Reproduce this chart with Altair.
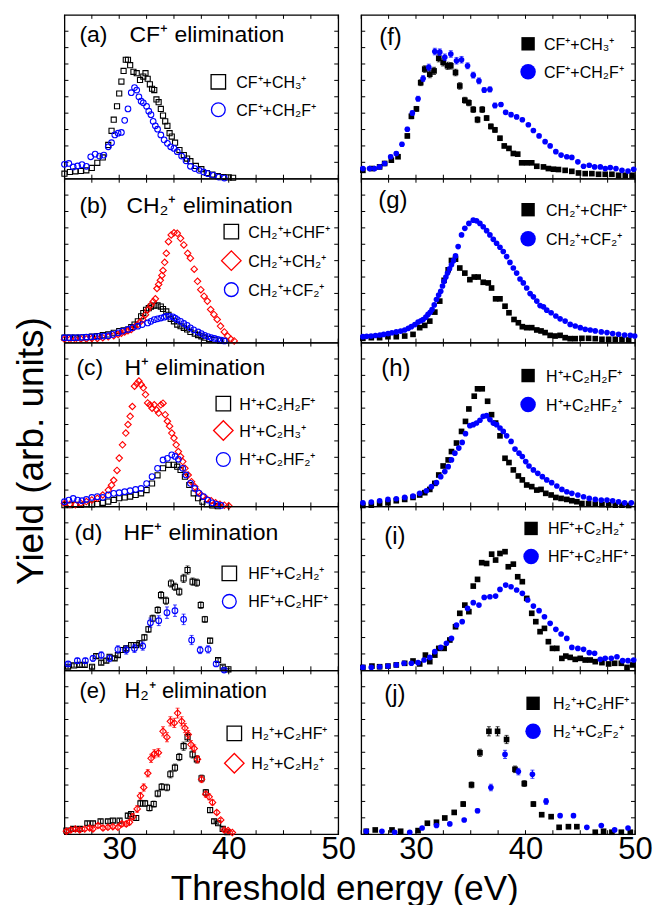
import altair as alt
import pandas as pd

FONT = "Liberation Sans"
BLACK = "#000000"
RED = "#ff0000"
BLUE = "#0000ff"

W, H = 274, 164
TICK = 4

X_TICKS = [25, 27.5, 30, 32.5, 35, 37.5, 40, 42.5, 45, 47.5, 50]
Y_TICKS = [1, 2, 3, 4, 5, 6, 7, 8, 9]
X_LABELS = [30, 40, 50]

# ---------------- data (threshold energy eV, yield arb. units) ----------------
# (a) CF+ elimination
a1_E = [25.0,25.5,26.0,26.5,27.0,27.5,28.0,28.5,29.0,29.3,29.5,29.8,30.0,30.2,30.4,30.6,30.8,31.0,31.3,31.6,
        31.9,32.2,32.4,32.6,32.8,33.0,33.2,33.4,33.6,33.8,34.0,34.2,34.4,34.6,34.8,35.1,35.5,35.9,36.2,36.5,
        37.0,37.5,38.0,38.5,39.0,39.5,40.0,40.4]
a1_Y = [0.31,0.41,0.45,0.47,0.51,0.66,0.97,1.3,2.06,2.92,3.6,4.42,5.2,5.93,6.58,7.26,7.26,6.93,6.52,6.44,
        6.03,6.23,6.44,6.1,5.76,5.49,5.41,4.84,4.67,4.26,3.85,3.5,3.23,2.78,2.57,2.2,1.75,1.44,1.23,1.07,
        0.78,0.58,0.35,0.25,0.16,0.1,0.08,0.06]
a2_E = [25.0,25.4,25.8,26.2,26.6,27.0,27.4,27.8,28.2,28.6,29.0,29.3,29.6,29.9,30.2,30.5,30.8,31.1,31.4,31.6,
        31.8,32.0,32.2,32.5,32.7,32.9,33.1,33.3,33.5,33.8,34.1,34.4,34.7,35.0,35.3,35.7,36.1,36.5,36.9,37.3,
        37.7,38.1,38.6,39.1,39.6]
a2_Y = [0.88,0.93,0.72,0.78,0.86,0.76,1.34,1.5,1.38,1.44,1.95,2.2,2.67,2.78,2.82,3.56,4.26,5.25,5.56,5.41,
        5.0,4.73,4.63,4.42,4.12,3.91,3.5,3.23,3.02,2.67,2.37,2.16,1.95,1.85,1.65,1.38,1.09,0.76,0.62,0.51,
        0.41,0.31,0.21,0.1,0.04]

# (b) CH2+ elimination
b1_E = [25.0,25.5,26.0,26.5,27.0,27.5,28.0,28.5,29.0,29.5,30.0,30.4,30.8,31.1,31.4,31.7,32.0,32.2,32.45,32.7,
        32.9,33.2,33.5,33.8,34.0,34.3,34.5,34.7,35.0,35.3,35.6,35.9,36.2,36.5,36.9,37.2,37.5,37.8,38.2,38.7,
        39.2,39.6]
b1_Y = [0.3,0.3,0.3,0.31,0.33,0.36,0.4,0.45,0.5,0.6,0.7,0.75,0.8,0.95,1.1,1.3,1.6,1.8,2.0,2.1,
        2.2,2.25,2.27,2.2,2.05,1.9,1.7,1.45,1.3,1.1,1.0,0.9,0.8,0.65,0.55,0.46,0.38,0.3,0.22,0.16,
        0.12,0.1]
b2_E = [25.0,25.5,26.0,26.5,27.0,27.5,28.0,28.5,29.0,29.5,29.9,30.2,30.5,30.8,31.1,31.4,31.7,31.9,32.15,32.4,
        32.6,32.9,33.1,33.3,33.45,33.6,33.75,33.9,34.0,34.15,34.3,34.5,34.75,35.0,35.3,35.6,35.9,36.25,36.5,36.85,
        37.15,37.45,37.75,38.05,38.35,38.65,38.95,39.25,39.6,39.9,40.2,40.5]
b2_Y = [0.2,0.2,0.2,0.22,0.22,0.25,0.25,0.3,0.35,0.42,0.5,0.57,0.65,0.72,0.8,0.95,1.1,1.25,1.4,1.7,
        2.0,2.3,2.5,2.67,3.3,3.55,3.8,4.1,4.4,4.9,5.45,6.16,6.57,6.7,6.67,6.36,5.96,5.45,5.15,4.48,
        3.74,3.23,2.83,2.53,2.02,1.72,1.41,1.01,0.65,0.4,0.2,0.1]
b3_E = [25.0,25.4,25.8,26.2,26.6,27.0,27.4,27.8,28.2,28.6,29.0,29.4,29.9,30.3,30.8,31.2,31.7,32.1,32.6,32.9,
        33.2,33.5,33.8,34.1,34.3,34.6,34.9,35.1,35.3,35.6,35.9,36.2,36.5,36.8,37.2,37.5,37.8,38.1,38.4,38.7,
        39.0,39.3,39.6]
b3_Y = [0.3,0.3,0.3,0.31,0.32,0.33,0.35,0.36,0.38,0.4,0.42,0.5,0.6,0.7,0.8,0.9,1.0,1.1,1.2,1.3,
        1.4,1.45,1.5,1.55,1.6,1.6,1.57,1.5,1.4,1.3,1.17,1.05,0.9,0.78,0.65,0.55,0.44,0.37,0.3,0.25,
        0.2,0.15,0.1]

# (c) H+ elimination
c1_E = [25.0,25.5,26.0,26.5,27.0,27.5,28.0,28.5,29.0,29.5,30.0,30.5,31.0,31.5,32.0,32.5,33.0,33.5,34.0,34.5,
        35.0,35.3,35.6,36.0,36.4,36.8,37.2,37.6,38.0,38.5,39.0]
c1_Y = [0.08,0.08,0.1,0.1,0.12,0.13,0.15,0.22,0.3,0.4,0.5,0.55,0.6,0.7,0.8,1.0,1.4,1.9,2.33,2.54,
        2.54,2.43,2.23,1.82,1.31,0.8,0.5,0.29,0.14,0.06,0.02]
c2_E = [25.0,25.5,26.0,26.5,27.0,27.5,28.0,28.5,29.0,29.3,29.5,29.8,30.0,30.3,30.6,30.8,31.0,31.2,31.4,31.6,
        31.8,32.0,32.2,32.4,32.6,32.8,33.0,33.2,33.4,33.6,33.8,34.0,34.2,34.4,34.6,34.8,35.0,35.2,35.4,35.6,
        35.8,36.0,36.3,36.6,36.9,37.2,37.6,38.0,38.4,38.8,39.2,39.6,40.0]
c2_Y = [0.18,0.14,0.1,0.2,0.3,0.4,0.5,0.7,1.0,1.3,1.6,2.2,2.95,3.76,4.48,5.0,5.5,6.1,7.34,7.5,
        7.65,7.44,7.24,6.83,6.32,6.2,6.0,6.2,5.9,5.7,6.2,6.3,5.6,5.2,4.9,4.48,4.17,3.76,3.35,3.05,
        2.74,2.33,1.92,1.51,1.2,0.9,0.63,0.45,0.35,0.22,0.14,0.08,0.04]
c3_E = [25.0,25.4,25.8,26.2,26.6,27.0,27.5,28.0,28.5,29.0,29.5,30.0,30.5,31.0,31.5,32.0,32.5,33.0,33.5,34.0,
        34.4,34.8,35.1,35.4,35.8,36.1,36.5,36.9,37.3,37.7,38.1,38.5,38.9,39.3]
c3_Y = [0.29,0.39,0.49,0.39,0.35,0.43,0.55,0.6,0.55,0.7,0.8,0.84,0.9,0.96,1.04,1.1,1.4,1.82,2.33,2.84,
        2.94,3.15,3.05,2.88,2.33,1.92,1.41,1.1,0.8,0.6,0.39,0.22,0.12,0.06]

# (d) HF+ elimination
d1_E = [25.33,25.88,26.39,26.85,27.52,27.9,28.36,28.82,29.12,29.58,29.88,30.33,30.64,31.09,31.55,31.85,32.3,32.67,33.06,33.52,
        33.82,34.27,34.73,35.09,35.48,35.88,36.24,36.7,37.09,37.45,37.82,38.3,39.03,39.45,39.97]
d1_Y = [0.22,0.3,0.33,0.33,0.22,0.87,0.47,0.59,0.83,0.73,0.93,1.24,1.34,1.54,1.54,1.65,2.01,2.5,3.17,3.68,
        4.59,4.25,5.3,5.1,4.8,5.61,6.12,5.41,5.35,3.98,3.11,1.81,0.63,0.22,0.06]
d1_err = [0.1,0.1,0.1,0.1,0.1,0.12,0.12,0.12,0.12,0.12,0.12,0.15,0.15,0.15,0.15,0.15,0.18,0.18,0.2,0.2,
          0.22,0.22,0.22,0.22,0.22,0.25,0.25,0.22,0.22,0.2,0.18,0.15,0.1,0.08,0.05]
d2_E = [25.33,26.18,26.91,27.6,28.36,29.12,29.88,30.64,31.39,32.15,32.85,33.61,34.36,35.09,35.88,36.61,37.39,38.12,38.85,39.58]
d2_Y = [0.39,0.59,0.59,0.73,0.93,0.73,1.28,1.24,1.34,1.48,2.91,3.03,3.52,3.64,3.11,1.85,1.24,1.28,0.39,0.02]
d2_err = [0.12,0.15,0.15,0.18,0.2,0.2,0.22,0.25,0.25,0.25,0.28,0.3,0.35,0.35,0.32,0.28,0.22,0.22,0.15,0.08]

# (e) H2+ elimination
e1_E = [25.18,25.79,26.4,27.09,27.6,28.3,28.97,29.42,30.03,30.79,31.09,31.55,31.94,32.36,32.76,33.15,33.52,33.88,34.36,34.67,
        35.09,35.48,35.88,36.24,36.7,37.09,37.52,37.91,38.3,38.67,39.03,39.45,39.88]
e1_Y = [0.22,0.32,0.32,0.67,0.67,0.79,0.79,0.83,0.83,1.13,1.23,0.99,1.88,1.88,1.6,1.84,2.48,2.89,2.85,3.66,
        4.06,4.71,5.37,5.92,4.87,4.57,3.41,2.55,1.47,0.79,0.67,0.32,0.12]
e1_err = [0.1,0.1,0.1,0.12,0.12,0.12,0.12,0.12,0.12,0.15,0.15,0.15,0.18,0.18,0.18,0.18,0.2,0.2,0.2,0.22,
          0.22,0.22,0.25,0.25,0.22,0.22,0.2,0.18,0.15,0.12,0.1,0.08,0.06]
e2_E = [25.18,25.58,26.0,26.39,26.85,27.3,27.6,28.06,28.52,28.97,29.42,29.88,30.24,30.64,30.94,31.24,31.64,31.94,32.24,32.61,
        32.91,33.21,33.58,34.0,34.36,34.67,35.03,35.33,35.7,36.0,36.3,36.55,36.85,37.15,37.52,37.91,38.21,38.52,38.91,39.27,
        39.58,39.94,40.33]
e2_Y = [0.18,0.26,0.32,0.26,0.32,0.38,0.32,0.53,0.38,0.42,0.46,0.42,0.63,0.63,0.73,1.07,1.54,2.34,2.85,3.72,
        4.63,4.91,4.97,6.28,5.92,6.89,6.79,7.39,6.89,6.48,6.08,5.47,5.23,4.57,3.35,2.44,2.28,1.94,1.33,0.87,
        0.26,0.22,0.1]
e2_err = [0.1,0.1,0.1,0.1,0.1,0.12,0.12,0.12,0.12,0.12,0.12,0.12,0.15,0.15,0.15,0.18,0.2,0.2,0.22,0.22,
          0.25,0.25,0.25,0.28,0.28,0.28,0.28,0.3,0.28,0.28,0.25,0.25,0.22,0.22,0.2,0.18,0.18,0.15,0.12,0.1,
          0.08,0.08,0.06]

# (f)
f1_E = [25.15,25.98,26.68,27.14,27.75,28.36,29.21,29.58,30.04,30.43,30.8,31.26,31.65,32.08,32.48,32.88,33.18,33.61,34.0,34.46,
        34.83,35.23,35.62,36.05,36.45,36.84,37.21,37.67,38.06,38.49,38.89,39.29,39.65,40.11,40.57,41.03,41.64,42.09,42.55,43.01,
        43.62,44.23,44.84,45.45,46.06,46.67,47.28,47.89,48.5,49.11,49.73]
f1_Y = [0.51,0.62,0.72,0.93,1.13,1.34,2.61,3.81,4.26,5.86,6.69,6.38,6.58,7.35,7.1,6.89,6.89,6.48,5.66,4.79,
        4.63,4.22,3.6,4.22,3.7,3.19,2.98,2.47,2.0,1.85,1.54,1.5,0.97,0.97,0.97,0.76,0.72,0.62,0.58,0.56,
        0.51,0.45,0.35,0.31,0.31,0.27,0.27,0.27,0.21,0.21,0.21]
f1_err = [0.08,0.08,0.08,0.1,0.1,0.1,0.12,0.15,0.15,0.18,0.2,0.22,0.22,0.22,0.22,0.22,0.2,0.2,0.2,0.18,
          0.18,0.18,0.18,0.18,0.15,0.15,0.15,0.12,0.12,0.12,0.1,0.1,0.08,0.08,0.08,0.08,0.06,0.06,0.06,0.06,
          0.06,0.05,0.05,0.05,0.05,0.05,0.05,0.05,0.05,0.05,0.05]
f2_E = [25.15,25.76,26.22,26.68,27.14,27.69,28.2,28.72,29.21,29.67,30.19,30.65,31.17,31.72,32.17,32.63,33.18,33.7,34.16,34.71,
        35.23,35.75,36.23,36.75,37.21,37.76,38.19,38.68,39.19,39.71,40.26,40.72,41.24,41.79,42.25,42.77,43.25,43.77,44.23,44.78,
        45.3,45.82,46.31,46.83,47.28,47.74,48.26,48.81,49.36,49.88]
f2_Y = [0.62,0.62,0.62,0.72,0.93,1.34,1.54,2.1,3.02,4.01,4.88,6.11,6.79,7.76,7.72,7.41,7.61,7.2,7.26,6.89,
        6.32,5.97,5.41,5.45,4.47,4.53,4.05,3.91,3.77,3.6,3.29,2.94,2.61,2.26,2.0,1.65,1.44,1.34,1.3,1.03,
        0.76,0.82,0.72,0.72,0.62,0.68,0.62,0.51,0.47,0.58]
f2_err = [0.08,0.08,0.08,0.08,0.1,0.1,0.1,0.12,0.12,0.15,0.15,0.18,0.2,0.2,0.2,0.2,0.2,0.2,0.2,0.18,
          0.18,0.18,0.15,0.15,0.15,0.12,0.12,0.12,0.1,0.1,0.08,0.08,0.08,0.08,0.08,0.08,0.08,0.08,0.08,0.08,
          0.08,0.08,0.08,0.08,0.08,0.08,0.08,0.08,0.08,0.08]

# (g)
g1_E = [25.15,25.92,26.68,27.44,28.2,28.97,29.73,30.34,30.8,31.26,31.72,32.17,32.57,32.94,33.24,33.61,34.0,34.46,34.92,35.32,
        35.68,36.14,36.6,36.9,37.27,37.67,38.13,38.49,38.95,39.35,39.71,40.11,40.57,41.03,41.42,41.79,42.25,42.7,43.16,43.62,
        44.08,44.54,45.15,45.76,46.37,46.98,47.59,48.2,48.81,49.42]
g1_Y = [0.26,0.3,0.3,0.36,0.36,0.4,0.5,0.91,1.05,1.31,1.86,2.53,3.8,4.44,5.01,5.09,4.55,4.24,3.84,4.0,
        4.0,3.68,3.64,3.33,2.67,2.67,2.22,1.82,1.41,1.21,0.97,0.91,0.91,0.77,0.71,0.61,0.44,0.4,0.44,0.3,
        0.24,0.24,0.26,0.26,0.24,0.2,0.2,0.2,0.2,0.16]
g2_E = [25.15,25.5,25.9,26.3,26.7,27.05,27.45,27.8,28.2,28.6,28.97,29.3,29.58,29.9,30.19,30.45,30.65,30.9,31.1,31.3,
        31.47,31.67,31.87,32.07,32.26,32.42,32.57,32.73,32.88,33.06,33.24,33.42,33.61,33.85,34.16,34.46,34.83,35.23,35.53,35.84,
        36.14,36.45,36.75,37.06,37.36,37.67,37.97,38.28,38.58,38.89,39.19,39.5,39.8,40.11,40.42,40.72,41.03,41.33,41.64,41.94,
        42.34,42.77,43.16,43.62,44.08,44.54,45.0,45.45,45.91,46.37,46.92,47.44,47.96,48.5,49.05,49.57,49.97]
g2_Y = [0.36,0.38,0.4,0.43,0.46,0.5,0.55,0.6,0.65,0.7,0.77,0.87,0.97,1.1,1.25,1.33,1.41,1.55,1.72,1.85,
        2.02,2.3,2.63,2.9,3.13,3.45,3.74,4.0,4.24,4.5,4.75,5.0,5.29,5.86,6.57,6.97,7.27,7.47,7.43,7.27,
        7.07,6.83,6.57,6.3,6.06,5.82,5.56,5.25,4.89,4.55,4.24,3.88,3.64,3.33,2.99,2.79,2.53,2.26,2.18,1.98,
        1.82,1.62,1.45,1.31,1.11,1.01,0.91,0.81,0.77,0.71,0.65,0.61,0.55,0.51,0.46,0.44,0.4]

# (h)
h1_E = [25.15,25.92,26.68,27.44,28.2,28.97,29.73,30.34,30.8,31.26,31.72,32.08,32.48,32.94,33.24,33.7,34.16,34.52,34.83,35.32,
        35.62,36.05,36.54,36.9,37.27,37.67,38.13,38.49,38.89,39.35,39.71,40.11,40.57,41.03,41.42,41.85,42.34,42.77,43.25,43.77,
        44.23,44.69,45.15,45.76,46.37,46.98,47.59,48.2,48.81,49.42]
h1_Y = [0.06,0.08,0.14,0.22,0.35,0.43,0.55,0.7,0.84,1.04,1.41,1.92,2.47,2.84,3.35,3.87,4.58,5.19,5.95,6.73,
        7.18,7.18,6.42,5.6,5.09,4.31,2.94,2.68,2.23,1.86,1.62,1.31,1.21,1.0,1.04,0.8,0.7,0.55,0.49,0.43,
        0.35,0.29,0.18,0.18,0.14,0.12,0.1,0.08,0.08,0.06]
h2_E = [25.15,25.92,26.68,27.44,28.2,28.97,29.73,30.34,30.95,31.41,31.87,32.26,32.63,32.94,33.24,33.55,33.91,34.22,34.52,34.92,
        35.23,35.53,35.84,36.14,36.45,36.75,37.06,37.36,37.67,37.97,38.28,38.68,39.04,39.41,39.71,40.02,40.32,40.72,41.12,41.54,
        41.94,42.39,42.86,43.32,43.77,44.23,44.78,45.3,45.82,46.37,46.92,47.44,47.96,48.5,49.05,49.66]
h2_Y = [0.22,0.27,0.35,0.43,0.47,0.55,0.63,0.8,0.96,1.21,1.45,1.82,2.13,2.43,2.84,3.25,3.56,3.91,4.44,4.93,
        4.99,5.09,5.26,5.5,5.54,5.3,5.09,4.99,4.79,4.58,4.31,3.97,3.5,3.25,3.05,2.74,2.47,2.23,2.02,1.82,
        1.62,1.45,1.25,1.04,0.9,0.8,0.7,0.59,0.49,0.43,0.39,0.39,0.35,0.29,0.22,0.22]

# (i)
i1_E = [25.15,25.98,26.68,27.44,28.2,28.97,29.73,30.34,30.86,31.26,31.72,32.08,32.57,33.09,33.61,34.0,34.46,34.83,35.23,35.62,
        36.0,36.45,36.91,37.27,37.67,38.13,38.43,38.89,39.29,39.71,40.11,40.57,40.94,41.33,41.73,42.09,42.46,42.86,43.32,43.68,
        44.08,44.54,45.0,45.45,45.91,46.37,46.98,47.59,48.14,48.75,49.27,49.79]
i1_Y = [0.18,0.26,0.22,0.26,0.33,0.43,0.57,0.39,0.93,0.53,0.93,1.34,1.34,1.85,2.66,3.48,3.98,3.58,5.14,5.55,
        6.57,6.52,7.09,6.73,7.13,7.24,6.32,6.48,5.71,5.41,4.39,3.48,2.97,2.36,2.56,1.75,1.34,1.34,0.73,0.87,
        0.79,0.67,0.73,0.63,0.63,0.53,0.47,0.39,0.43,0.43,0.18,0.33]
i2_E = [25.15,25.92,26.68,27.44,28.2,28.91,29.58,30.19,30.74,31.26,31.72,32.26,32.78,33.24,33.7,34.22,34.71,35.23,35.75,36.23,
        36.75,37.27,37.67,38.19,38.68,39.19,39.71,40.2,40.72,41.24,41.73,42.25,42.77,43.25,43.77,44.23,44.78,45.3,45.82,46.31,
        46.83,47.28,47.83,48.35,48.87,49.36,49.88]
i2_Y = [0.18,0.18,0.22,0.26,0.33,0.43,0.43,0.47,0.63,0.79,1.14,1.4,1.65,1.95,2.76,2.97,3.78,4.13,3.98,4.45,
        4.49,4.53,4.94,5.2,5.1,4.9,4.7,4.29,3.92,3.64,3.27,2.87,2.5,2.22,1.95,1.4,1.34,1.28,1.08,1.04,
        0.67,0.73,0.73,0.83,0.59,0.59,0.63]

# (j)
j1_E = [25.46,26.28,27.81,28.6,30.19,31.04,31.87,32.63,33.49,34.31,35.07,35.84,36.66,37.45,38.27,39.04,39.89,40.72,41.48,42.34,
        43.07,43.92,44.69,46.37,47.13,47.89,48.75,49.57]
j1_Y = [0.18,0.26,0.26,0.18,0.22,0.67,0.73,0.99,1.33,1.84,3.01,4.97,6.28,6.28,5.78,3.96,3.09,1.84,1.19,1.07,
        0.42,0.46,0.46,0.12,0.18,0.12,0.12,0.12]
j1_err = [0.05,0.05,0.05,0.05,0.05,0.08,0.08,0.1,0.12,0.15,0.18,0.22,0.28,0.28,0.25,0.2,0.18,0.15,0.1,0.08,
          0.06,0.06,0.06,0.05,0.05,0.05,0.05,0.05]
j2_E = [25.46,26.89,28.05,29.43,30.56,31.87,33.09,34.4,35.62,36.84,38.13,39.35,40.63,41.88,43.16,44.38,45.6,46.92,48.14,49.36]
j2_Y = [0.18,0.18,0.12,0.12,0.38,0.53,0.63,0.87,1.43,2.85,4.87,3.82,3.66,2.0,1.13,1.13,0.42,0.53,0.26,0.38]
j2_err = [0.05,0.05,0.05,0.05,0.06,0.06,0.08,0.1,0.12,0.2,0.25,0.2,0.25,0.18,0.1,0.1,0.06,0.06,0.05,0.05]

# legend labels and panel captions
a_labels = ["CF⁺+CH₃⁺", "CF⁺+CH₂F⁺"]
b_labels = ["CH₂⁺+CHF⁺", "CH₂⁺+CH₂⁺", "CH₂⁺+CF₂⁺"]
c_labels = ["H⁺+C₂H₂F⁺", "H⁺+C₂H₃⁺", "H⁺+C₂HF₂⁺"]
d_labels = ["HF⁺+C₂H₂⁺", "HF⁺+C₂HF⁺"]
e_labels = ["H₂⁺+C₂HF⁺", "H₂⁺+C₂H₂⁺"]
f_labels = ["CF⁺+CH₃⁺", "CF⁺+CH₂F⁺"]
g_labels = ["CH₂⁺+CHF⁺", "CH₂⁺+CF₂⁺"]
h_labels = ["H⁺+C₂H₂F⁺", "H⁺+C₂HF₂⁺"]
i_labels = ["HF⁺+C₂H₂⁺", "HF⁺+C₂HF⁺"]
j_labels = ["H₂⁺+C₂HF⁺", "H₂⁺+C₂F₂⁺"]
tags = ["(a)", "(b)", "(c)", "(d)", "(e)", "(f)", "(g)", "(h)", "(i)", "(j)"]
captions = ["CF⁺ elimination", "CH₂⁺ elimination", "H⁺ elimination", "HF⁺ elimination", "H₂⁺ elimination"]
x_title = "Threshold energy (eV)"
y_title = "Yield (arb. units)"


def frame(E, Y, err=None):
    d = pd.DataFrame({"E": E, "Y": Y})
    if err is not None:
        e = pd.Series(err)
        d["lo"] = d["Y"] - e
        d["hi"] = d["Y"] + e
    return d


XS = alt.Scale(domain=[25, 50], nice=False, zero=False)
YS = alt.Scale(domain=[0, 10], nice=False, zero=False)
ONE = pd.DataFrame({"k": [0]})

DATA_SIZE = {"square": 26, "circle": 32, "diamond": 42}
LEG_SIZE_OPEN = {"square": 210, "circle": 190, "diamond": 380}
LEG_SIZE_FILLED = {"square": 180, "circle": 240}


def panel(series, labels, leg, tag, tag_xy, tag_size, caption=None, cap_xy=None,
          filled=False, xaxis=None, yaxis=None):
    def X(f):
        return alt.X(f, type="quantitative", scale=XS, axis=xaxis)

    def Y(f):
        return alt.Y(f, type="quantitative", scale=YS, axis=yaxis)

    layers = []
    xt = alt.Chart(pd.DataFrame({"t": X_TICKS}))
    yt = alt.Chart(pd.DataFrame({"t": Y_TICKS}))
    layers.append(xt.mark_rule(color=BLACK, strokeWidth=1).encode(
        x=X("t"), y=alt.value(0), y2=alt.value(TICK)))
    layers.append(xt.mark_rule(color=BLACK, strokeWidth=1).encode(
        x=X("t"), y=alt.value(H - TICK), y2=alt.value(H)))
    layers.append(yt.mark_rule(color=BLACK, strokeWidth=1).encode(
        y=Y("t"), x=alt.value(0), x2=alt.value(TICK)))
    layers.append(yt.mark_rule(color=BLACK, strokeWidth=1).encode(
        y=Y("t"), x=alt.value(W - TICK), x2=alt.value(W)))

    for df, shape, color in series:
        base = alt.Chart(df)
        if "lo" in df.columns:
            layers.append(base.mark_rule(color=color, strokeWidth=1).encode(
                x=X("E"), y=Y("lo"), y2=alt.Y2("hi")))
            layers.append(base.mark_tick(color=color, orient="horizontal", size=4, thickness=1).encode(
                x=X("E"), y=Y("lo")))
            layers.append(base.mark_tick(color=color, orient="horizontal", size=4, thickness=1).encode(
                x=X("E"), y=Y("hi")))
        if filled:
            layers.append(base.mark_point(shape=shape, filled=True, color=color, size=32,
                                          opacity=1, strokeWidth=0).encode(x=X("E"), y=Y("Y")))
        else:
            layers.append(base.mark_point(shape=shape, filled=False, color=color, size=DATA_SIZE[shape],
                                          opacity=1, strokeWidth=1.1).encode(x=X("E"), y=Y("Y")))

    sx, tx, rows = leg
    for (df, shape, color), lab, ry in zip(series, labels, rows):
        if filled:
            layers.append(alt.Chart(ONE).mark_point(shape=shape, filled=True, color=color,
                                                    size=LEG_SIZE_FILLED[shape], opacity=1, strokeWidth=0).encode(
                x=alt.value(sx), y=alt.value(ry)))
        else:
            layers.append(alt.Chart(ONE).mark_point(shape=shape, filled=False, color=color,
                                                    size=LEG_SIZE_OPEN[shape], opacity=1, strokeWidth=1.3).encode(
                x=alt.value(sx), y=alt.value(ry)))
        layers.append(alt.Chart(ONE).mark_text(align="left", baseline="middle", font=FONT, fontSize=16,
                                               color=BLACK).encode(
            x=alt.value(tx), y=alt.value(ry + 1), text=alt.value(lab)))

    layers.append(alt.Chart(ONE).mark_text(align="left", baseline="alphabetic", font=FONT,
                                           fontSize=tag_size, color=BLACK).encode(
        x=alt.value(tag_xy[0]), y=alt.value(tag_xy[1]), text=alt.value(tag)))
    if caption is not None:
        layers.append(alt.Chart(ONE).mark_text(align="left", baseline="alphabetic", font=FONT,
                                               fontSize=tag_size, color=BLACK).encode(
            x=alt.value(cap_xy[0]), y=alt.value(cap_xy[1]), text=alt.value(caption)))

    return alt.layer(*layers).properties(width=W, height=H)


def bottom_axis(with_title):
    kw = dict(values=X_LABELS, labels=True, ticks=False, tickSize=0, domain=False, grid=False,
              labelFont=FONT, labelFontSize=31, labelPadding=0, labelFlush=False, labelColor=BLACK,
              labelOverlap=False)
    if with_title:
        kw.update(title=x_title, titleFont=FONT, titleFontSize=35, titleFontWeight="normal",
                  titleColor=BLACK, titleX=280, titleY=65, titleAlign="center", titleBaseline="alphabetic")
    else:
        kw.update(title=None)
    return alt.Axis(**kw)


y_axis_c = alt.Axis(labels=False, ticks=False, domain=False, grid=False, title=y_title,
                    titleFont=FONT, titleFontSize=37, titleFontWeight="normal", titleColor=BLACK,
                    titleAngle=270, titleX=-22, titleY=108, titleAlign="center",
                    titleBaseline="alphabetic")

pa = panel([(frame(a1_E, a1_Y), "square", BLACK), (frame(a2_E, a2_Y), "circle", BLUE)],
           a_labels, (154, 172, [67, 95]), tags[0], (15, 27), 23, captions[0], (65, 27))
pb = panel([(frame(b1_E, b1_Y), "square", BLACK), (frame(b2_E, b2_Y), "diamond", RED),
            (frame(b3_E, b3_Y), "circle", BLUE)],
           b_labels, (167, 184, [53, 82, 111]), tags[1], (15, 34), 23, captions[1], (62, 34))
pc = panel([(frame(c1_E, c1_Y), "square", BLACK), (frame(c2_E, c2_Y), "diamond", RED),
            (frame(c3_E, c3_Y), "circle", BLUE)],
           c_labels, (159, 175, [61, 88, 117]), tags[2], (12, 32), 23, captions[2], (60, 32),
           yaxis=y_axis_c)
pd_ = panel([(frame(d1_E, d1_Y, d1_err), "square", BLACK), (frame(d2_E, d2_Y, d2_err), "circle", BLUE)],
            d_labels, (165, 184, [67, 95]), tags[3], (10, 34), 23, captions[3], (59, 34))
pe = panel([(frame(e1_E, e1_Y, e1_err), "square", BLACK), (frame(e2_E, e2_Y, e2_err), "diamond", RED)],
           e_labels, (170, 187, [63, 93]), tags[4], (15, 28), 22, captions[4], (60, 28),
           xaxis=bottom_axis(True))

pf = panel([(frame(f1_E, f1_Y, f1_err), "square", BLACK), (frame(f2_E, f2_Y, f2_err), "circle", BLUE)],
           f_labels, (167, 183, [29, 57]), tags[5], (18, 30), 24, filled=True)
pg = panel([(frame(g1_E, g1_Y), "square", BLACK), (frame(g2_E, g2_Y), "circle", BLUE)],
           g_labels, (167, 185, [31, 60]), tags[6], (17, 29), 24, filled=True)
ph = panel([(frame(h1_E, h1_Y), "square", BLACK), (frame(h2_E, h2_Y), "circle", BLUE)],
           h_labels, (167, 185, [33, 62]), tags[7], (20, 33), 24, filled=True)
pi = panel([(frame(i1_E, i1_Y), "square", BLACK), (frame(i2_E, i2_Y), "circle", BLUE)],
           i_labels, (170, 187, [22, 50]), tags[8], (23, 38), 24, filled=True)
pj = panel([(frame(j1_E, j1_Y, j1_err), "square", BLACK), (frame(j2_E, j2_Y, j2_err), "circle", BLUE)],
           j_labels, (172, 192, [33, 61]), tags[9], (23, 32), 24, filled=True,
           xaxis=bottom_axis(False))

chart = alt.concat(pa, pf, pb, pg, pc, ph, pd_, pi, pe, pj, columns=2,
                   spacing={"row": 0, "column": 23}, bounds="flush").properties(
    padding={"left": 11.5, "top": 12.5, "right": 0, "bottom": 0}
).configure(font=FONT).configure_view(stroke=BLACK, strokeWidth=1.3)

chart.save("out.html", embed_options={"renderer": "svg", "actions": False})
